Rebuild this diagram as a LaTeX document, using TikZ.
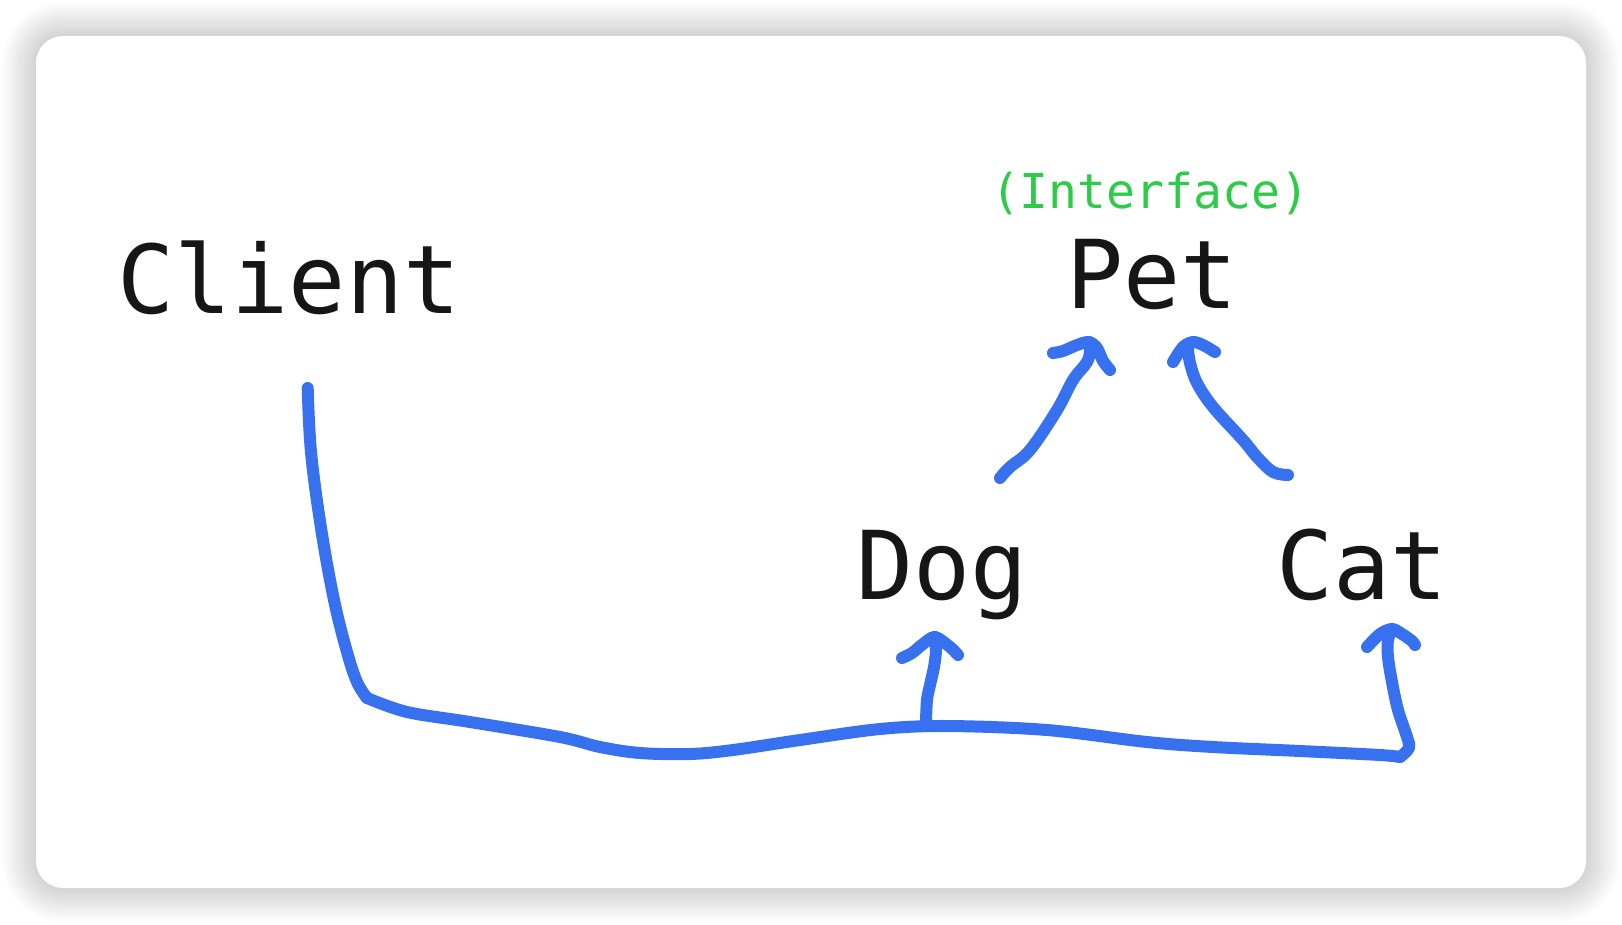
\documentclass[tikz,border=0pt]{standalone}
\usepackage{fontspec}
\newfontfamily\monofnt{DejaVu Sans Mono}
\definecolor{inkblue}{RGB}{56,113,240}
\definecolor{ifgreen}{RGB}{44,204,72}
\definecolor{txt}{RGB}{22,22,22}
\begin{document}
\begin{tikzpicture}[x=1pt,y=-1pt,
  inkline/.style={draw=inkblue,line width=12pt,line cap=round,line join=round},
  bigtext/.style={font=\monofnt\fontsize{95}{100}\selectfont,text=txt,anchor=base,inner sep=0pt},
  smalltext/.style={font=\monofnt\fontsize{48}{52}\selectfont,text=ifgreen,anchor=base,inner sep=0pt}]
\useasboundingbox (0,0) rectangle (1622,924);
\fill[white] (0,0) rectangle (1622,924);
% shadow
\foreach \i in {1,...,14}{
  \pgfmathsetmacro{\d}{2.4*\i}
  \pgfmathsetmacro{\r}{27+2.4*\i}
  \fill[black,opacity=0.011,rounded corners=\r pt] ({36-\d},{36-\d}) rectangle ({1586+\d},{888+\d});
}
% card
\fill[white,rounded corners=27pt] (36,36) rectangle (1586,888);
% texts
\node[bigtext] (client) at (289,313) {Client};
\node[bigtext] (pet) at (1152,308) {Pet};
\node[bigtext] (dog) at (942,599) {Dog};
\node[bigtext] (cat) at (1362,599) {Cat};
\node[smalltext] (iface) at (1150,208) {(Interface)};
% named end points
\coordinate (start) at (307.7,388);
\coordinate (corner) at (367,698);
\coordinate (dogtip) at (935,637);
\coordinate (cattip) at (1392,629);
\coordinate (petl) at (1089,342);
\coordinate (petr) at (1193,342);
% main connector Client -> Cat
\draw[inkline] plot[smooth,tension=0.6] coordinates {
  (start) (311,452) (321,528) (334,600) (347,652) (357,682) (corner)};
\draw[inkline] plot[smooth,tension=0.55] coordinates {
  (corner) (407,712) (470,722) (560,737) (600,747) (640,753) (690,754) (733,750)
  (800,740) (880,729) (947,726) (1047,730) (1147,742) (1213,747) (1300,751) (1380,755) (1400,757)};
\draw[inkline] plot[smooth,tension=0.6] coordinates {
  (1400,757) (1409,748) (1407,737) (1398,710) (1392,682) (1388,657) (1388,640) (cattip)};
\draw[inkline] plot[smooth,tension=0.5] coordinates {(1367,647) (1380,634) (cattip) (1402,634) (1412,641) (1415,645)};
% branch to Dog
\draw[inkline] plot[smooth,tension=0.6] coordinates {(926,722) (927,700) (930,685) (934,667) (936,650) (dogtip)};
\draw[inkline] plot[smooth,tension=0.5] coordinates {(902,658) (912,653) (923,644) (dogtip) (950,647) (958,655)};
% Dog -> Pet
\draw[inkline] plot[smooth,tension=0.6] coordinates {(1000,478) (1010,467) (1030,450) (1057,410) (1073,380) (1087,362) (1090,350) (petl)};
\draw[inkline] plot[smooth,tension=0.5] coordinates {(1053,353) (1063,351) (1077,345) (petl) (1097,348) (1103,361) (1110,370)};
% Cat -> Pet
\draw[inkline] plot[smooth,tension=0.6] coordinates {(1288,475) (1273,472) (1257,457) (1243,440) (1213,407) (1197,383) (1190,363) (1188,349)};
\draw[inkline] plot[smooth,tension=0.5] coordinates {(1173,362) (1183,347) (petr) (1203,345) (1215,352)};
\end{tikzpicture}
\end{document}
